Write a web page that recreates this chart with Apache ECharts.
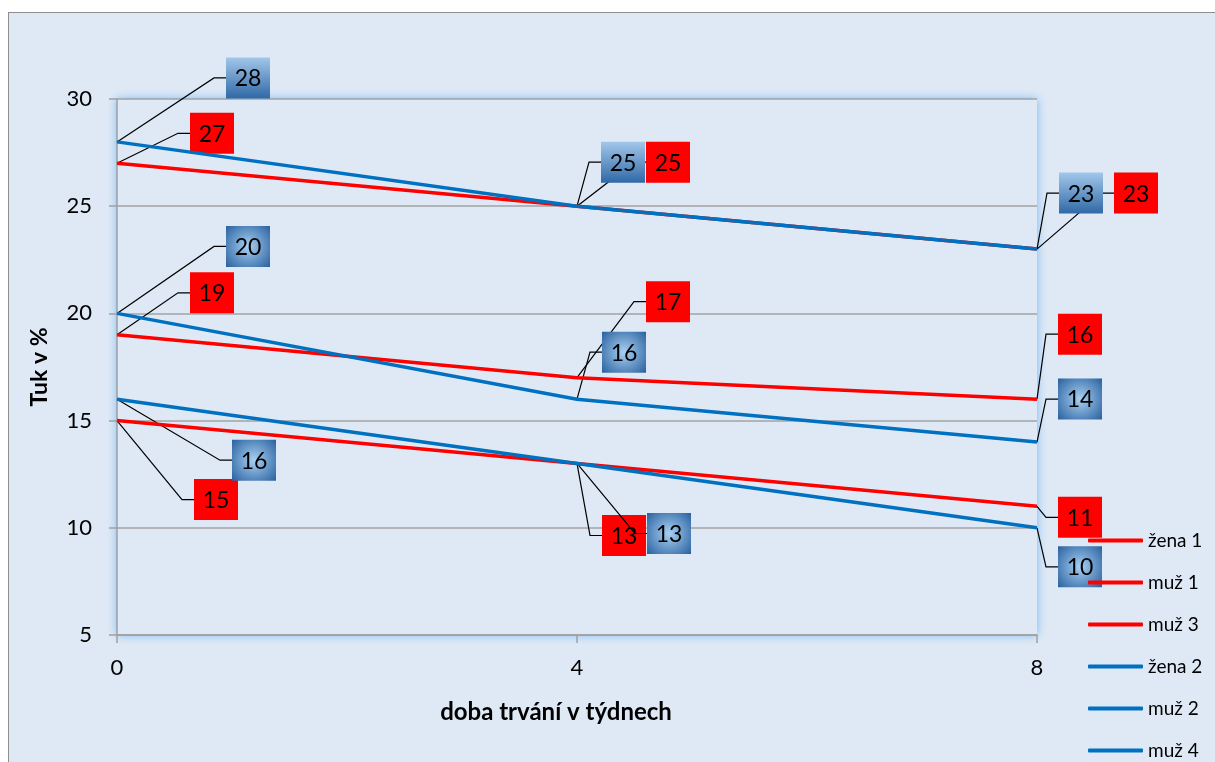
<!DOCTYPE html>
<html>
<head>
<meta charset="utf-8">
<script src="https://cdn.jsdelivr.net/npm/echarts@6/dist/echarts.min.js"></script>
<style>
  html, body { margin: 0; padding: 0; background: #ffffff; overflow: hidden; }
  #frame {
    position: absolute; left: 8px; top: 12px; width: 1300px; height: 820px;
    background: #dfe9f5; border-left: 1.5px solid #8f8f8f; border-top: 1.5px solid #8f8f8f;
  }
  #chart { position: absolute; left: 0; top: 0; width: 1215px; height: 762px; }
</style>
</head>
<body>
<div id="frame"></div>
<div id="chart"></div>
<script>
// Weeks of the programme (x values) and body-fat readings in %
const weeks = [0, 4, 8];
const seriesNames = ['žena 1', 'muž 1', 'muž 3', 'žena 2', 'muž 2', 'muž 4'];
const zena1 = [27, 25, 23];
const muz1  = [19, 17, 16];
const muz3  = [15, 13, 11];
const zena2 = [28, 25, 23];
const muz2  = [20, 16, 14];
const muz4  = [16, 13, 10];
const yTicks = { min: 5, max: 30, step: 5 };
const xTicks = { min: 0, max: 8, step: 4 };

// Callout placement: shift of each value box centre from its point, in px
const calloutShift = {
  'žena 1': [[95, -30], [91, -44], [99, -56]],
  'muž 1':  [[95, -42], [91, -76], [43, -65]],
  'muž 3':  [[99, 79],  [47, 72],  [43, 11]],
  'žena 2': [[131, -64], [46, -44], [44, -56]],
  'muž 2':  [[131, -67], [47, -47], [43, -43]],
  'muž 4':  [[137, 61], [92, 70],  [43, 39]]
};

const values = [zena1, muz1, muz3, zena2, muz2, muz4];
const RED = '#ff0000', BLUE = '#0070c0';
const lineColors = [RED, RED, RED, BLUE, BLUE, BLUE];
// box fill: 0 = flat red, 1 = blue linear sheen, 2 = blue radial sheen
const boxKind = [0, 0, 0, 1, 2, 2];
const FONT = 'Lato';

function boxFill(kind) {
  if (kind === 0) return RED;
  if (kind === 1) {
    return new echarts.graphic.LinearGradient(0, 0, 0, 1, [
      { offset: 0, color: '#a2c7ea' },
      { offset: 1, color: '#3069a6' }
    ]);
  }
  return new echarts.graphic.RadialGradient(0.5, 0.5, 0.72, [
    { offset: 0, color: '#a9d0f2' },
    { offset: 1, color: '#2a62a0' }
  ]);
}

const BOX_W = 44, BOX_H = 41, LEAD = 12;

function calloutSeries(idx) {
  const name = seriesNames[idx];
  const data = weeks.map((w, i) => [w, values[idx][i], calloutShift[name][i][0], calloutShift[name][i][1]]);
  const kind = boxKind[idx];
  return {
    type: 'custom',
    name: name + ' popisky',
    coordinateSystem: 'cartesian2d',
    encode: { x: 0, y: 1 },
    clip: false,
    silent: true,
    data: data,
    renderItem: function (params, api) {
      const p = api.coord([api.value(0), api.value(1)]);
      const cx = p[0] + api.value(2), cy = p[1] + api.value(3);
      const left = cx - BOX_W / 2;
      return {
        type: 'group',
        children: [
          {
            type: 'polyline',
            shape: { points: [[p[0], p[1]], [left - LEAD, cy], [left, cy]] },
            style: { stroke: '#000000', lineWidth: 1.2, fill: null }
          },
          {
            type: 'rect',
            shape: { x: left, y: cy - BOX_H / 2, width: BOX_W, height: BOX_H },
            style: { fill: boxFill(kind) }
          },
          {
            type: 'text',
            style: {
              text: String(api.value(1)), x: cx, y: cy + 1,
              align: 'center', verticalAlign: 'middle',
              font: '23px ' + FONT, fill: '#000000'
            }
          }
        ]
      };
    }
  };
}

const lineSeries = seriesNames.map((name, idx) => ({
  type: 'line',
  name: name,
  data: weeks.map((w, i) => [w, values[idx][i]]),
  symbol: 'none',
  lineStyle: { color: lineColors[idx], width: 3.5 },
  itemStyle: { color: lineColors[idx] },
  animation: false
}));

const chart = echarts.init(document.getElementById('chart'), null, { renderer: 'canvas' });
chart.setOption({
  backgroundColor: 'transparent',
  animation: false,
  textStyle: { fontFamily: FONT },
  grid: {
    left: 117, right: 178, top: 99, bottom: 127,
    show: true, backgroundColor: '#dfe9f5', borderWidth: 0,
    shadowBlur: 9, shadowColor: 'rgba(110,180,245,0.95)'
  },
  legend: {
    data: seriesNames,
    orient: 'vertical',
    left: 1088, top: 530, padding: 0,
    itemWidth: 55, itemHeight: 4, itemGap: 21,
    icon: 'roundRect',
    textStyle: { fontFamily: FONT, fontSize: 19, color: '#000', lineHeight: 21 }
  },
  xAxis: {
    type: 'value',
    min: xTicks.min, max: xTicks.max, interval: xTicks.step,
    name: 'doba trvání v týdnech',
    nameLocation: 'middle', nameGap: 65,
    nameTextStyle: { fontFamily: FONT, fontSize: 24, fontWeight: 'bold', color: '#000', padding: [0, 42, 0, 0] },
    axisLine: { show: true, lineStyle: { color: '#a0a0a0', width: 1.5 } },
    axisTick: { show: true, length: 8, lineStyle: { color: '#a0a0a0', width: 1.5 } },
    axisLabel: { fontFamily: FONT, fontSize: 22, color: '#000', margin: 22 },
    splitLine: { show: false }
  },
  yAxis: {
    type: 'value',
    min: yTicks.min, max: yTicks.max, interval: yTicks.step,
    name: 'Tuk v %',
    nameLocation: 'middle', nameGap: 66,
    nameTextStyle: { fontFamily: FONT, fontSize: 23, fontWeight: 'bold', color: '#000' },
    axisLine: { show: true, lineStyle: { color: '#a0a0a0', width: 1.5 } },
    axisTick: { show: true, length: 8, lineStyle: { color: '#a0a0a0', width: 1.5 } },
    axisLabel: { fontFamily: FONT, fontSize: 22, color: '#000', margin: 25 },
    splitLine: { show: true, lineStyle: { color: '#a3a3a3', width: 1.5 } }
  },
  series: lineSeries.concat(seriesNames.map((n, i) => calloutSeries(i)))
});
</script>
</body>
</html>
